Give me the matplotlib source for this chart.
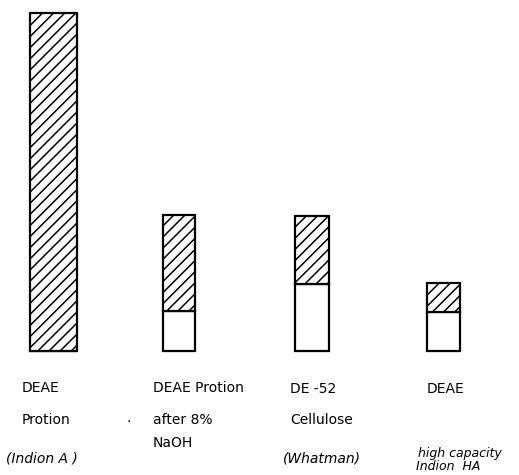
import matplotlib
matplotlib.use("Agg")
import matplotlib.pyplot as plt

# Data (arbitrary units, tallest bar = 100)
categories = ["DEAE Protion (Indion A)", "DEAE Protion after 8% NaOH",
              "DE-52 Cellulose (Whatman)", "DEAE high capacity Indion HA"]
white_part = [0.0, 11.8, 19.8, 11.5]
hatched_part = [100.0, 28.4, 20.1, 8.6]

x_pos = [53.5, 179, 312, 443.5]
widths = [47, 32, 34, 33]

plt.rcParams['hatch.linewidth'] = 1.1
fig = plt.figure(figsize=(5.19, 4.75), dpi=100)
ax = fig.add_axes([0, 0, 1, 1])
ax.set_xlim(0, 519)
ax.set_ylim(-36.69, 103.85)
ax.axis('off')

ax.bar(x_pos, white_part, width=widths, color='white', edgecolor='black', linewidth=1.6)
ax.bar(x_pos, hatched_part, width=widths, bottom=white_part, color='white',
       edgecolor='black', linewidth=1.6, hatch='///')

def px(xp, yp, s, **kw):
    fig.text(xp / 519, 1 - yp / 475, s, va='center', ha='left', **kw)

fs = 10
px(22, 388, "DEAE", fontsize=fs)
px(22, 420, "Protion", fontsize=fs)
px(6, 458, "(Indion A )", fontsize=fs, style='italic')
px(126, 418, ".", fontsize=fs)
px(153, 388, "DEAE Protion", fontsize=fs)
px(153, 420, "after 8%", fontsize=fs)
px(153, 443, "NaOH", fontsize=fs)
px(290, 389, "DE -52", fontsize=fs)
px(290, 420, "Cellulose", fontsize=fs)
px(283, 458, "(Whatman)", fontsize=fs, style='italic')
px(427, 389, "DEAE", fontsize=fs)
px(418, 453, "high capacity", fontsize=9, style='italic')
px(416, 466, "Indion  HA", fontsize=9, style='italic')

fig.savefig("out.png", dpi=100)
